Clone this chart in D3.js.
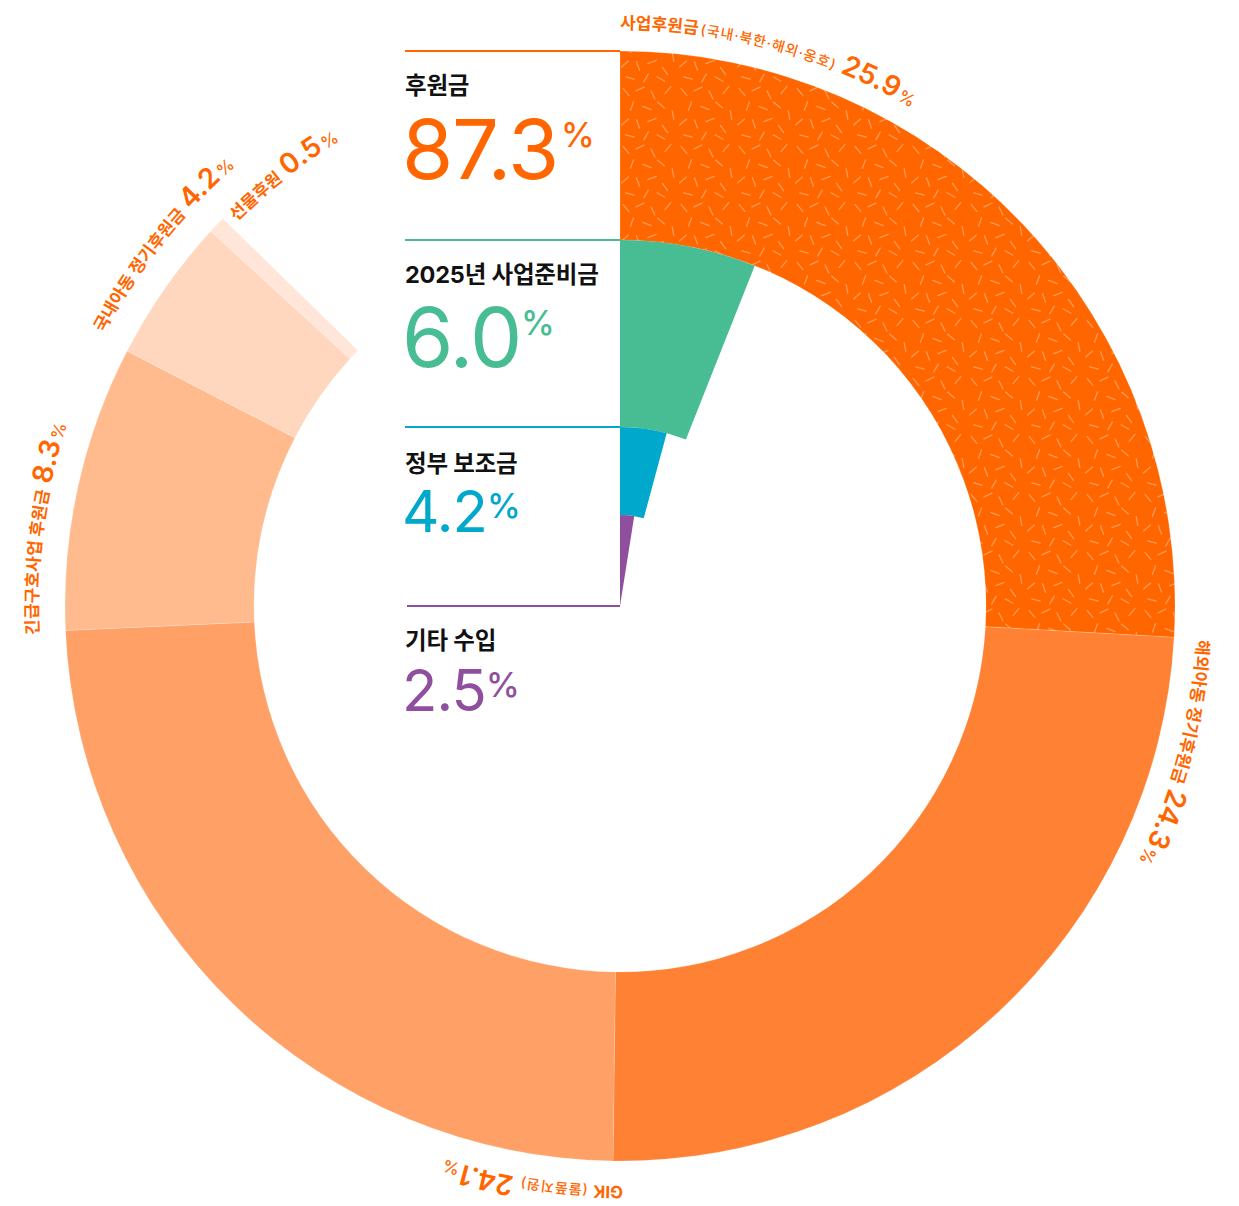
<!DOCTYPE html>
<html lang="ko">
<head>
<meta charset="utf-8">
<script src="https://cdn.jsdelivr.net/npm/d3@7"></script>
<style>
	html, body { margin: 0; padding: 0; background: #fff; }
	svg { display: block; font-family: Inter, "Noto Sans CJK KR", sans-serif; }
</style>
</head>
<body>
<svg id="chart" width="1239" height="1206"></svg>
<script>
// 후원금 세부 항목 (바깥 링)
const donationNames = ['사업후원금', '해외아동 정기후원금', 'GIK', '긴급구호사업 후원금', '국내아동 정기후원금', '선물후원'];
const donationNotes = ['(국내·북한·해외·옹호)', '', '(물품지원)', '', '', ''];
const donationValues = [25.9, 24.3, 24.1, 8.3, 4.2, 0.5];

// 수입 구분 (안쪽 링들)
const incomeNames = ['후원금', '2025년 사업준비금', '정부 보조금', '기타 수입'];
const incomeValues = [87.3, 6.0, 4.2, 2.5];

const donationColors = ['#FF6600', '#FF8134', '#FFA067', '#FFBB8D', '#FFD7BF', '#FFE6D9'];
const incomeColors = ['#FF6600', '#48BD93', '#00A8CC', '#8F4F9E'];

const svg = d3.select('#chart');
const cx = 620, cy = 606;
// ring edges, outside -> in
const ringR = [555, 366, 179, 91, 0];
// radius where each legend rule sits
const legendR = [555, 366, 179, 0];

const angle = d3.scaleLinear().domain([0, 100]).range([0, 2 * Math.PI]);

// texture for 사업후원금
const defs = svg.append('defs');
const pat = defs.append('pattern')
	.attr('id', 'dash')
	.attr('patternUnits', 'userSpaceOnUse')
	.attr('width', 58).attr('height', 58);
pat.append('rect').attr('width', 58).attr('height', 58).attr('fill', donationColors[0]);
const dashes = [[6, 8, 50], [20, 5, -25], [33, 11, 65], [48, 6, -50], [12, 22, -70], [27, 24, 20], [41, 21, 40],
	[53, 31, 80], [5, 38, -40], [18, 40, 70], [32, 36, -20], [45, 45, 55], [10, 52, 15], [26, 52, -60], [41, 53, 30]];
pat.selectAll('line').data(dashes).enter().append('line')
	.attr('x1', (d) => d[0] - 4.5 * Math.cos(d[2] * Math.PI / 180))
	.attr('y1', (d) => d[1] - 4.5 * Math.sin(d[2] * Math.PI / 180))
	.attr('x2', (d) => d[0] + 4.5 * Math.cos(d[2] * Math.PI / 180))
	.attr('y2', (d) => d[1] + 4.5 * Math.sin(d[2] * Math.PI / 180))
	.attr('stroke', 'rgba(255,255,255,0.33)')
	.attr('stroke-width', 1.3)
	.attr('stroke-linecap', 'round');

const g = svg.append('g').attr('transform', `translate(${cx},${cy})`);

// outer ring
const ends = d3.cumsum(donationValues);
const outer = donationValues.map((v, i) => ({ name: donationNames[i], note: donationNotes[i], value: v, a0: angle(ends[i] - v), a1: angle(ends[i]) }));
const arcOuter = d3.arc().innerRadius(ringR[1]).outerRadius(ringR[0]);

g.selectAll('path.seg').data(outer).enter().append('path')
	.attr('class', 'seg')
	.attr('d', (d) => arcOuter({ startAngle: d.a0, endAngle: d.a1 }))
	.attr('fill', (d, i) => (i === 0 ? 'url(#dash)' : donationColors[i]))
	.attr('stroke', 'rgba(255,255,255,0.3)')
	.attr('stroke-width', 0.6);

// inner rings
const inner = incomeValues.slice(1).map((v, i) => ({ value: v, idx: i + 1 }));
g.selectAll('path.inc').data(inner).enter().append('path')
	.attr('class', 'inc')
	.attr('d', (d) => d3.arc().innerRadius(ringR[d.idx + 1]).outerRadius(ringR[d.idx])({ startAngle: 0, endAngle: angle(d.value) }))
	.attr('fill', (d) => incomeColors[d.idx]);

// left legend
const legendX = 405;
const numSize = [83, 83, 58, 58];
const titleGap = [43, 43, 45, 43];
const numGap = [128, 127, 105, 105];
incomeValues.forEach((v, i) => {
	const y = cy - legendR[i];
	svg.append('line')
		.attr('x1', legendX + (i === 3 ? 2 : 0)).attr('x2', cx)
		.attr('y1', y).attr('y2', y)
		.attr('stroke', incomeColors[i])
		.attr('stroke-width', 2.2);
	svg.append('text')
		.attr('x', legendX).attr('y', y + titleGap[i])
		.attr('font-size', 23.5).attr('font-weight', 700)
		.attr('letter-spacing', -0.2)
		.attr('fill', '#111')
		.text(incomeNames[i]);
	const s = numSize[i];
	const t = svg.append('text')
		.attr('x', legendX - 3).attr('y', y + numGap[i])
		.attr('fill', incomeColors[i]);
	t.append('tspan')
		.attr('font-size', s)
		.attr('font-weight', 400)
		.attr('letter-spacing', -s * 0.015)
		.text(v.toFixed(1));
	t.append('tspan')
		.attr('dx', i === 0 ? 3 : 0)
		.attr('dy', -(0.727 * s - 28))
		.attr('font-size', 34)
		.attr('font-weight', 500)
		.text('%');
});

// curved labels outside the ring
const labelR = [577, 578, 580, 582, 584, 543];
const labelStart = [0, 0.1, -1.0, -0.3, 0.5, 2.6]; // degrees after segment start
function arcPath(r, a0, a1) {
	const p0 = [r * Math.sin(a0), -r * Math.cos(a0)];
	const p1 = [r * Math.sin(a1), -r * Math.cos(a1)];
	return `M ${p0[0]},${p0[1]} A ${r},${r} 0 ${a1 - a0 > Math.PI ? 1 : 0} 1 ${p1[0]},${p1[1]}`;
}
outer.forEach((d, i) => {
	const a0 = d.a0 + labelStart[i] * Math.PI / 180;
	defs.append('path')
		.attr('id', 'lp' + i)
		.attr('d', arcPath(labelR[i], a0, a0 + 2.4));
	const t = g.append('text').attr('fill', '#FF6600');
	const tp = t.append('textPath').attr('href', '#lp' + i);
	tp.append('tspan')
		.attr('font-size', 17)
		.attr('font-weight', 700)
		.text(d.name);
	if (d.note) {
		tp.append('tspan')
			.attr('dx', i === 0 ? 2 : 5)
			.attr('font-size', 14)
			.attr('font-weight', 500)
			.attr('letter-spacing', 1)
			.text(d.note);
	}
	tp.append('tspan')
		.attr('dx', 6)
		.attr('font-size', 28)
		.attr('font-weight', 600)
		.attr('letter-spacing', 0)
		.text(d.value.toFixed(1));
	tp.append('tspan')
		.attr('dx', 2)
		.attr('font-size', 17)
		.attr('font-weight', 500)
		.text('%');
});
</script>
</body>
</html>
